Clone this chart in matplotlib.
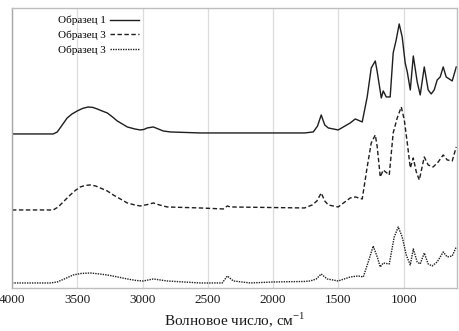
import matplotlib
matplotlib.use("Agg")
import matplotlib.pyplot as plt

plt.rcParams['font.family'] = ['Liberation Serif', 'DejaVu Serif']
plt.rcParams['mathtext.fontset'] = 'custom'
plt.rcParams['mathtext.rm'] = 'Liberation Serif'

# IR spectra (wavenumber, cm-1 ; intensity, arbitrary units with vertical offsets)
wn_1 = [4000, 3707, 3684, 3653, 3615, 3577, 3540, 3500, 3460, 3416, 3380, 3347, 3310, 3270, 3230,
        3194, 3155, 3117, 3060, 3018, 2990, 2964, 2918, 2880, 2842, 2788, 2558, 2328, 1760, 1693,
        1660, 1632, 1605, 1578, 1502, 1410, 1371, 1318, 1280, 1249, 1218, 1203, 1172, 1157, 1134,
        1104, 1081, 1058, 1035, 1012, 989, 973, 950, 927, 897, 874, 843, 813, 790, 767, 744, 721,
        698, 675, 629, 598]
int_1 = [154, 154, 154, 156, 163, 170, 174, 177, 179.5, 181, 180.5, 179, 177, 175, 171,
         167, 164, 161, 159, 158, 158.5, 160, 161, 159, 157, 156, 155, 155, 155, 156,
         162, 173, 163, 160, 158, 165, 169, 166, 191, 220, 227, 216, 190, 197, 191,
         191, 235, 248, 264, 251, 225, 216, 198, 232, 206, 193, 221, 198, 194, 198, 208, 211,
         221, 211, 207, 221]

wn_2 = [4000, 3684, 3646, 3600, 3554, 3515, 3477, 3440, 3401, 3360, 3324, 3270, 3224, 3170,
        3117, 3060, 3018, 2960, 2918, 2870, 2811, 2558, 2382, 2351, 2328, 1760, 1701, 1665,
        1632, 1605, 1578, 1502, 1410, 1371, 1318, 1280, 1249, 1218, 1203, 1180, 1157, 1111,
        1081, 1050, 1019, 996, 973, 950, 927, 904, 881, 843, 813, 775, 736, 698, 667, 629, 598]
int_2 = [78, 78, 81, 87, 93, 97.5, 101, 102.5, 103, 102, 100, 97, 93, 89,
         85, 83, 82, 83.5, 85, 83, 81, 80, 79, 82, 81, 80, 83, 87,
         95, 87, 83, 81, 90, 91, 89, 121, 145, 153, 141, 111, 118, 113,
         155, 170, 181, 168, 145, 120, 130, 116, 108, 131, 123, 121, 126, 133, 128, 127, 141]

wn_3 = [4000, 3707, 3653, 3590, 3531, 3470, 3401, 3330, 3270, 3190, 3117, 3050, 2995, 2918,
        2811, 2558, 2390, 2351, 2305, 2175, 2000, 1760, 1716, 1670, 1632, 1605, 1586, 1502, 1410,
        1348, 1310, 1272, 1234, 1203, 1180, 1157, 1111, 1073, 1042, 1012, 981, 950, 927, 897,
        874, 843, 813, 783, 744, 698, 667, 629, 598]
int_3 = [5, 5, 6, 9.5, 13, 14.5, 15, 14, 13, 11, 9, 7.5, 7, 9,
         7, 5, 5, 12, 7, 5, 6, 6.5, 7, 9, 14, 11, 9, 7, 11,
         12, 11, 26, 42, 31, 21, 25, 24, 51, 61, 51, 33, 23, 39, 26,
         24, 35, 24, 22, 26, 36, 31, 32, 41]

labels = ['Образец 1', 'Образец 3', 'Образец 3']
xticks = [4000, 3500, 3000, 2500, 2000, 1500, 1000]

fig = plt.figure(figsize=(4.6, 3.31), dpi=100)
ax = fig.add_axes([0.026, 0.13, 0.967, 0.846])

lc = '#1e1e1e'
ax.plot(wn_1, int_1, color=lc, lw=1.0, ls='-', label=labels[0])
ax.plot(wn_2, int_2, color=lc, lw=1.0, ls=(0, (3.2, 1.8)), label=labels[1])
ax.plot(wn_3, int_3, color=lc, lw=1.0, ls=(0, (1.0, 0.8)), label=labels[2])

ax.set_xlim(4000, 594)
ax.set_ylim(0, 280)
ax.set_xticks(xticks)
ax.set_xticklabels([str(t) for t in xticks], fontsize=9.5)
ax.set_yticks([])
ax.tick_params(axis='x', length=0, pad=4, colors='#1a1a1a')
ax.grid(axis='x', color='#dcdcdc', lw=0.9)
ax.set_axisbelow(True)
for s in ax.spines.values():
    s.set_color('#bdbdbd')
    s.set_linewidth(1.0)
ax.spines['left'].set_color('#a8a8a8')

ax.set_xlabel('Волновое число, см$^{\\mathregular{-1}}$', fontsize=11, labelpad=3, color='#1a1a1a')

leg = ax.legend(loc='upper left', bbox_to_anchor=(0.085, 1.0), frameon=False,
                markerfirst=False, fontsize=8, handlelength=2.6, handletextpad=0.4,
                labelspacing=0.45, borderaxespad=0.3)

fig.savefig('out.png', dpi=100)
